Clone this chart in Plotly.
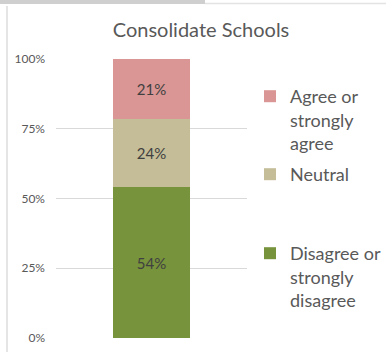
import plotly.graph_objects as go

# Survey responses for the "Consolidate Schools" question (share of respondents, %)
category = ["Consolidate Schools"]
responses = ["Disagree or strongly disagree", "Neutral", "Agree or strongly agree"]
legend_names = ["Disagree or<br>strongly<br>disagree", "Neutral", "Agree or<br>strongly<br>agree"]
shares = [54.3, 24.3, 21.4]
colors = ["#77933C", "#C4BD97", "#D99694"]
legend_ids = ["legend3", "legend2", "legend"]

y_ticks = [0, 25, 50, 75, 100]
y_tick_labels = ["0%", "25%", "50%", "75%", "100%"]

W, H = 387, 352
M_L, M_R, M_T, M_B = 56, 140, 59, 14
FONT = "Lato, 'Open Sans', sans-serif"

fig = go.Figure()
for name, lname, val, col, lid in zip(responses, legend_names, shares, colors, legend_ids):
    fig.add_trace(go.Bar(
        x=category, y=[val], name=lname,
        marker=dict(color=col, line=dict(width=0)),
        text=[val], texttemplate="%{y:.0f}%",
        textposition="inside", insidetextanchor="middle",
        textfont=dict(family=FONT, size=15, color="#404040"),
        width=0.403, legend=lid, showlegend=True, hoverinfo="skip",
    ))

plot_w = W - M_L - M_R
plot_h = H - M_T - M_B


def px_x(px):
    return (px - M_L) / plot_w


def px_y(py):
    return (H - M_B - py) / plot_h


legend_common = dict(
    xref="container", yref="container", xanchor="left", yanchor="top",
    font=dict(family=FONT, size=18, color="#595959"),
    bgcolor="rgba(0,0,0,0)", valign="top", itemwidth=30,
)

LEG_X = 250 / W

fig.update_layout(
    width=W, height=H,
    margin=dict(l=M_L, r=M_R, t=M_T, b=M_B, autoexpand=False),
    paper_bgcolor="white", plot_bgcolor="white",
    barmode="stack", bargap=0, showlegend=True,
    title=dict(
        text="Consolidate Schools", x=201 / W, y=1 - 30 / H,
        xref="container", yref="container", xanchor="center", yanchor="middle",
        font=dict(family=FONT, size=20, color="#595959"),
    ),
    xaxis=dict(showticklabels=False, showgrid=False, zeroline=False,
               range=[-0.5, 0.5], fixedrange=True),
    yaxis=dict(range=[0, 100], tickvals=y_ticks, ticktext=y_tick_labels,
               showgrid=True, gridcolor="#D9D9D9", gridwidth=1, zeroline=False,
               ticklabelstandoff=10,
               tickfont=dict(family=FONT, size=12, color="#595959")),
    legend=dict(x=LEG_X, y=1 - 78 / H, **legend_common),
    legend2=dict(x=LEG_X, y=1 - 156 / H, **legend_common),
    legend3=dict(x=LEG_X, y=1 - 235 / H, **legend_common),
    shapes=[
        dict(type="rect", xref="paper", yref="paper",
             x0=px_x(0), x1=px_x(205), y0=px_y(4), y1=px_y(0),
             fillcolor="#CFCFCF", line=dict(width=0), layer="above"),
        dict(type="line", xref="paper", yref="paper",
             x0=px_x(205), x1=px_x(386), y0=px_y(3.5), y1=px_y(3.5),
             line=dict(color="#E3E3E3", width=1.5)),
        dict(type="line", xref="paper", yref="paper",
             x0=px_x(7), x1=px_x(7), y0=px_y(6), y1=px_y(352),
             line=dict(color="#DCDCDC", width=1.5)),
    ],
)

fig.write_html("out.html")
